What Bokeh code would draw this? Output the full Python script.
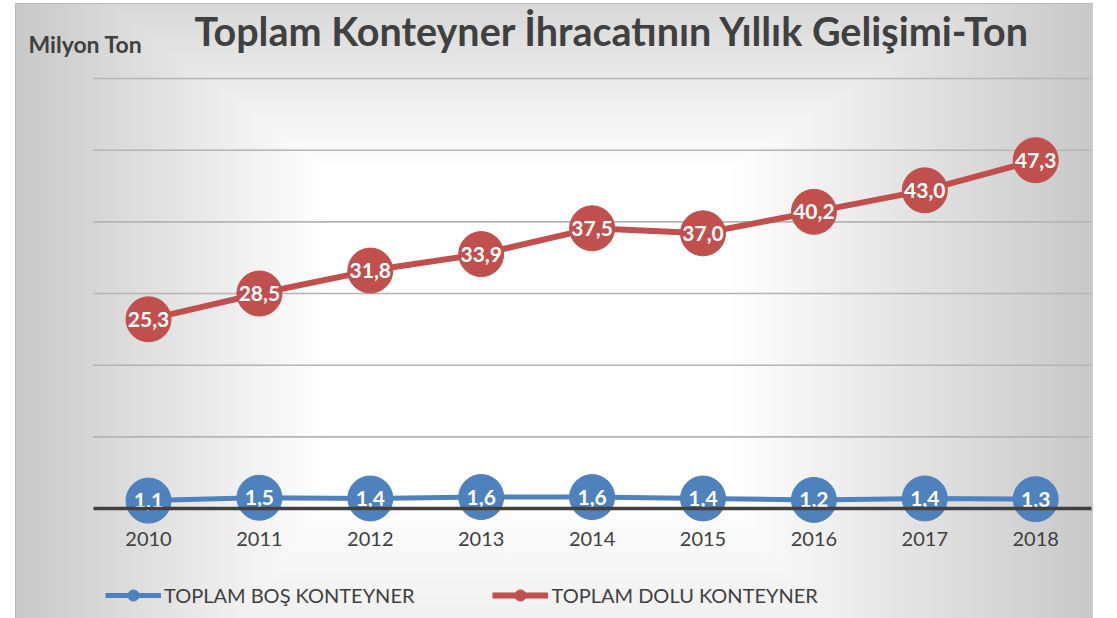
from bokeh.plotting import figure
from bokeh.models import (Range1d, FixedTicker, Label, Legend, LegendItem,
                          ColumnDataSource)
from bokeh.transform import stack
from bokeh.core.properties import value
from bokeh.embed import file_html
from bokeh.resources import INLINE

years = ["2010", "2011", "2012", "2013", "2014", "2015", "2016", "2017", "2018"]
bos = [1.1, 1.5, 1.4, 1.6, 1.6, 1.4, 1.2, 1.4, 1.3]
dolu = [25.3, 28.5, 31.8, 33.9, 37.5, 37.0, 40.2, 43.0, 47.3]
grid_ticks = [10, 20, 30, 40, 50, 60]

title_text = "Toplam Konteyner İhracatının Yıllık Gelişimi-Ton"
unit_text = "Milyon Ton"
name_bos = "TOPLAM BOŞ KONTEYNER"
name_dolu = "TOPLAM DOLU KONTEYNER"

BLUE = "#4f81bd"
RED = "#c0504d"
DARK = "#404040"


def fmt(v):
    return f"{v:.1f}".replace(".", ",")


n = len(years)
idx = list(range(n))
src = ColumnDataSource(dict(
    i=idx, year=years, bos=bos, dolu=dolu,
    bos_lbl=[fmt(v) for v in bos],
    dolu_lbl=[fmt(v) for v in dolu],
))

W, H = 1078, 615
p = figure(width=W, height=H,
           x_range=Range1d(-1.1993, 8.5212),
           y_range=Range1d(-15.35, 70.47),
           output_backend="svg", toolbar_location=None,
           min_border=0)
p.margin = (3, 0, 0, 15)
p.background_fill_alpha = 0
p.border_fill_alpha = 0
p.outline_line_color = None
p.styles = {
    "background-image": ("linear-gradient(to right, #c8c8c8 0%, #ffffff 29%, #ffffff 66%, #c8c8c8 100%), "
                         "linear-gradient(to bottom, #d8d8d8 0%, #ffffff 27%, #ffffff 80%, #f0f0f0 100%)"),
    "background-blend-mode": "darken",
    "box-shadow": "inset 1px 1px 0 #b8b8b8",
}

p.yaxis.visible = False
p.xgrid.visible = False
p.ygrid.visible = False

# horizontal gridlines spanning the category bands
p.segment(x0=[-0.5] * len(grid_ticks), x1=[n - 0.5] * len(grid_ticks),
          y0=grid_ticks, y1=grid_ticks, line_color="#b4b4b4", line_width=1.6)

p.xaxis.fixed_location = 0
p.xaxis.bounds = (-0.5, n - 0.5)
p.xaxis.ticker = FixedTicker(ticks=idx)
p.xaxis.major_label_overrides = {i: y for i, y in zip(idx, years)}
p.xaxis.axis_line_width = 3.5
p.xaxis.axis_line_color = DARK
p.xaxis.major_tick_line_color = None
p.xaxis.minor_tick_line_color = None
p.xaxis.major_label_standoff = 18
p.xaxis.major_label_text_font = "Lato"
p.xaxis.major_label_text_font_size = "20px"
p.xaxis.major_label_text_color = DARK

y_bos = stack("bos")
y_dolu = stack("bos", "dolu")

l_b = p.line(x="i", y=y_bos, source=src, line_color=BLUE, line_width=5)
l_r = p.line(x="i", y=y_dolu, source=src, line_color=RED, line_width=6)
s_b = p.scatter(x="i", y=y_bos, source=src, size=45, fill_color=BLUE, line_color=BLUE)
s_r = p.scatter(x="i", y=y_dolu, source=src, size=45, fill_color=RED, line_color=RED)
for yy, col in ((y_bos, "bos_lbl"), (y_dolu, "dolu_lbl")):
    p.text(x="i", y=yy, text=col, source=src, text_align="center",
           text_baseline="middle", text_color="white",
           text_font=value("Lato"), text_font_style="bold", text_font_size="21px")

legend = Legend(items=[LegendItem(label=name_bos, renderers=[l_b, s_b]),
                       LegendItem(label=name_dolu, renderers=[l_r, s_r])],
                orientation="horizontal", location=(90, 9),
                glyph_width=56, glyph_height=28, label_standoff=3, spacing=78,
                padding=0, margin=0, background_fill_alpha=0,
                border_line_color=None, label_text_font="Lato",
                label_text_font_size="20px", label_text_color=DARK)
p.add_layout(legend)

p.add_layout(Label(x=597, y=588, x_units="screen", y_units="screen",
                   text=title_text, text_align="center", text_baseline="alphabetic",
                   text_font="Lato", text_font_size="39.5px",
                   text_font_style="bold", text_color=DARK))
p.add_layout(Label(x=13, y=575, x_units="screen", y_units="screen",
                   text=unit_text, text_align="left", text_baseline="alphabetic",
                   text_font="Lato", text_font_size="23px",
                   text_font_style="bold", text_color=DARK))

open("out.html", "w").write(file_html(p, INLINE))
